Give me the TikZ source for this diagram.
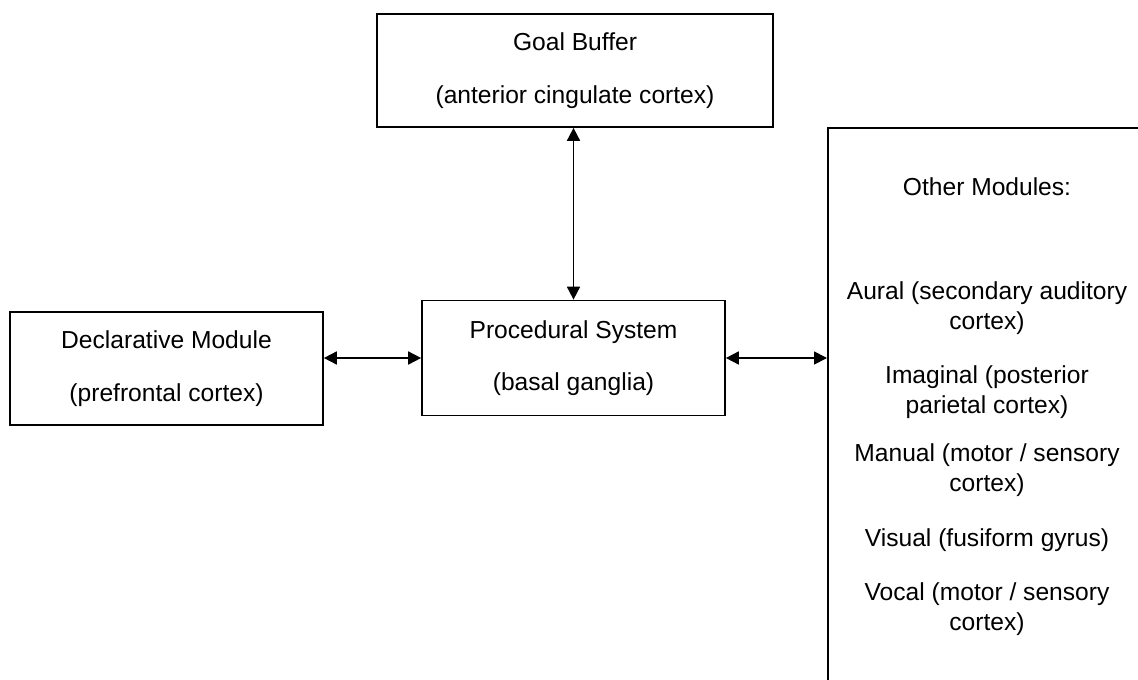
\documentclass[tikz,border=0pt]{standalone}
\usepackage{fontspec}
\setmainfont{Liberation Sans}
\usetikzlibrary{arrows.meta,shapes}

\begin{document}
\begin{tikzpicture}[x=0.02cm,y=-0.02cm,
  module/.style={rectangle,draw,line width=1pt,align=center,inner sep=0pt,
    font=\fontsize{14}{17}\selectfont},
  txt/.style={align=center,font=\fontsize{14}{17}\selectfont},
  link/.style={line width=1pt,{Triangle[length=2.6mm,width=2.6mm]}-{Triangle[length=2.6mm,width=2.6mm]}}]
\useasboundingbox (0,0) rectangle (1138,679);
\clip (0,0) rectangle (1138,679);

\node at (575,70.5) [module,minimum width=7.92cm,minimum height=2.26cm] (goal) {Goal Buffer\\[13pt](anterior cingulate cortex)};
\node at (573.5,358) [module,minimum width=6.06cm,minimum height=2.3cm] (proc) {Procedural System\\[13pt](basal ganglia)};
\node at (166.5,368.5) [module,minimum width=6.26cm,minimum height=2.27cm] (decl) {Declarative Module\\[13pt](prefrontal cortex)};
\node at (827,127) [module,anchor=north west,minimum width=6.4cm,minimum height=12cm] (other) {};

\node at (987,187) [txt] (othertitle) {Other Modules:};
\node at (987,308) [txt] (aural) {Aural (secondary auditory\\cortex)};
\node at (987,392) [txt] (imaginal) {Imaginal (posterior\\parietal cortex)};
\node at (987,470) [txt] (manual) {Manual (motor / sensory\\cortex)};
\node at (987,540) [txt] (visual) {Visual (fusiform gyrus)};
\node at (987,609) [txt] (vocal) {Vocal (motor / sensory\\cortex)};

\draw[link] (goal.south -| proc.north) -- (proc.north);
\draw[link] (decl.east |- proc.west) -- (proc.west);
\draw[link] (proc.east) -- (proc.east -| other.west);
\end{tikzpicture}
\end{document}
